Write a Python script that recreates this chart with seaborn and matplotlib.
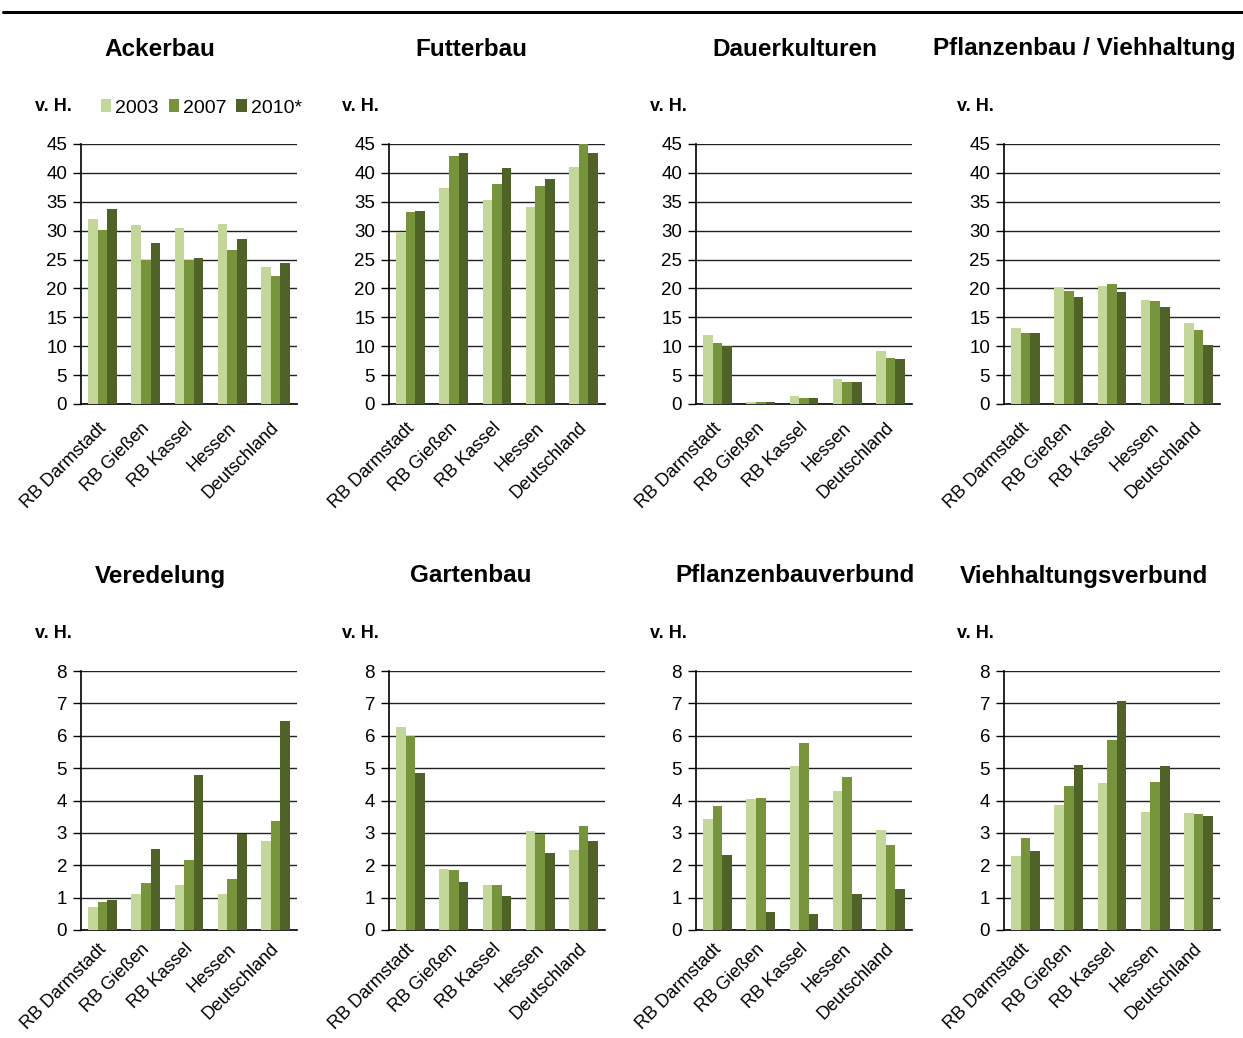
import matplotlib
matplotlib.use("Agg")
import matplotlib.pyplot as plt
import matplotlib.transforms as mtransforms
from matplotlib import font_manager
import seaborn as sns
import pandas as pd

regions = ["RB Darmstadt", "RB Gießen", "RB Kassel", "Hessen", "Deutschland"]
years = ["2003", "2007", "2010*"]

# shares in v. H. per farm type: one list per year, values per region
ackerbau = {"2003": [32.1, 30.9, 30.5, 31.1, 23.7],
            "2007": [30.2, 25.0, 24.9, 26.6, 22.2],
            "2010*": [33.7, 27.8, 25.2, 28.6, 24.4]}
futterbau = {"2003": [29.8, 37.4, 35.3, 34.1, 41.1],
             "2007": [33.3, 42.9, 38.0, 37.7, 45.0],
             "2010*": [33.4, 43.4, 40.9, 39.0, 43.4]}
dauerkulturen = {"2003": [12.0, 0.4, 1.3, 4.4, 9.2],
                 "2007": [10.6, 0.3, 1.0, 3.8, 8.0],
                 "2010*": [10.0, 0.4, 1.0, 3.8, 7.8]}
pflanzen_vieh = {"2003": [13.2, 20.1, 20.4, 18.0, 14.0],
                 "2007": [12.3, 19.6, 20.8, 17.9, 12.8],
                 "2010*": [12.3, 18.6, 19.4, 16.8, 10.2]}
veredelung = {"2003": [0.70, 1.10, 1.40, 1.10, 2.75],
              "2007": [0.85, 1.45, 2.16, 1.58, 3.36],
              "2010*": [0.93, 2.51, 4.79, 2.97, 6.45]}
gartenbau = {"2003": [6.28, 1.87, 1.38, 3.05, 2.46],
             "2007": [5.98, 1.85, 1.40, 2.96, 3.20],
             "2010*": [4.84, 1.49, 1.04, 2.39, 2.75]}
pflanzenbauverbund = {"2003": [3.44, 4.04, 5.06, 4.29, 3.08],
                      "2007": [3.83, 4.08, 5.78, 4.74, 2.63],
                      "2010*": [2.32, 0.55, 0.49, 1.10, 1.26]}
viehhaltungsverbund = {"2003": [2.30, 3.86, 4.53, 3.65, 3.61],
                       "2007": [2.85, 4.45, 5.86, 4.56, 3.57],
                       "2010*": [2.43, 5.10, 7.06, 5.07, 3.52]}

panels = [
    ("Ackerbau", ackerbau),
    ("Futterbau", futterbau),
    ("Dauerkulturen", dauerkulturen),
    ("Pflanzenbau / Viehhaltung", pflanzen_vieh),
    ("Veredelung", veredelung),
    ("Gartenbau", gartenbau),
    ("Pflanzenbauverbund", pflanzenbauverbund),
    ("Viehhaltungsverbund", viehhaltungsverbund),
]

colors = ["#c4d79b", "#77933c", "#4f6228"]

sns.set_theme(style="white")
installed = {f.name for f in font_manager.fontManager.ttflist}
families = [f for f in ["Liberation Sans Narrow", "Liberation Sans", "DejaVu Sans"] if f in installed]
plt.rcParams["font.family"] = families
plt.rcParams["text.color"] = "black"
plt.rcParams["xtick.color"] = "black"
plt.rcParams["ytick.color"] = "black"

W, H = 1243, 1038
fig = plt.figure(figsize=(W / 100, H / 100), dpi=100)

# thick rule across the top
fig.add_artist(plt.Line2D([3 / W, 1.0], [1 - 12 / H, 1 - 12 / H], color="black", lw=2.2))

ax_left = [81, 389, 696, 1004]
ax_width = 216
rows = [dict(top=144, bottom=404, title_y=49, unit_y=107, ymax=45, step=5, shift=-7),
        dict(top=671, bottom=930, title_y=576, unit_y=634, ymax=8, step=1, shift=-2)]
title_x = [160, 471, 795, 1084]
unit_x = [35, 342, 650, 957]

legend_handles = None
for i, (title, data) in enumerate(panels):
    r, c = divmod(i, 4)
    row = rows[r]
    df = pd.DataFrame([(reg, y, data[y][k]) for y in years for k, reg in enumerate(regions)],
                      columns=["region", "year", "value"])
    ax = fig.add_axes([ax_left[c] / W, 1 - row["bottom"] / H,
                       ax_width / W, (row["bottom"] - row["top"]) / H])
    sns.barplot(data=df, x="region", y="value", hue="year", order=regions,
                hue_order=years, palette=colors, width=0.67, gap=0,
                saturation=1, ax=ax, legend=(i == 0), zorder=3, linewidth=0)
    if i == 0:
        legend_handles = ax.get_legend_handles_labels()
        ax.get_legend().remove()
    ax.set_ylim(0, row["ymax"])
    ax.set_xlim(-0.5, 4.5)
    ax.set_yticks(range(0, row["ymax"] + 1, row["step"]))
    ax.yaxis.grid(True, color="#222222", lw=1.0, zorder=0)
    ax.set_axisbelow(True)
    for s in ["top", "right"]:
        ax.spines[s].set_visible(False)
    for s in ["left", "bottom"]:
        ax.spines[s].set_color("black")
        ax.spines[s].set_linewidth(1.2)
    ax.set_xlabel("")
    ax.set_ylabel("")
    ax.tick_params(axis="y", direction="out", length=6, width=1, color="black",
                   labelsize=13.5, pad=4, left=True)
    ax.tick_params(axis="x", length=0, pad=6)
    ax.set_xticks(range(len(regions)))
    ax.set_xticklabels(regions, rotation=45, ha="right", rotation_mode="anchor",
                       fontsize=13)
    shift = mtransforms.ScaledTranslation(-5 / 100, row["shift"] / 100, fig.dpi_scale_trans)
    for lab in ax.get_xticklabels():
        lab.set_transform(lab.get_transform() + shift)
    fig.text(title_x[c] / W, 1 - row["title_y"] / H, title, ha="center", va="center",
             fontsize=17.5, fontweight="bold")
    fig.text(unit_x[c] / W, 1 - row["unit_y"] / H, "v. H.", ha="left", va="center",
             fontsize=13, fontweight="bold")

fig.legend(*legend_handles, ncol=3, frameon=False, loc="center left",
           bbox_to_anchor=(93 / W, 1 - 108 / H), fontsize=14,
           handlelength=0.55, handleheight=0.6, handletextpad=0.2,
           columnspacing=0.5, borderaxespad=0)

fig.savefig("out.png", dpi=100)
